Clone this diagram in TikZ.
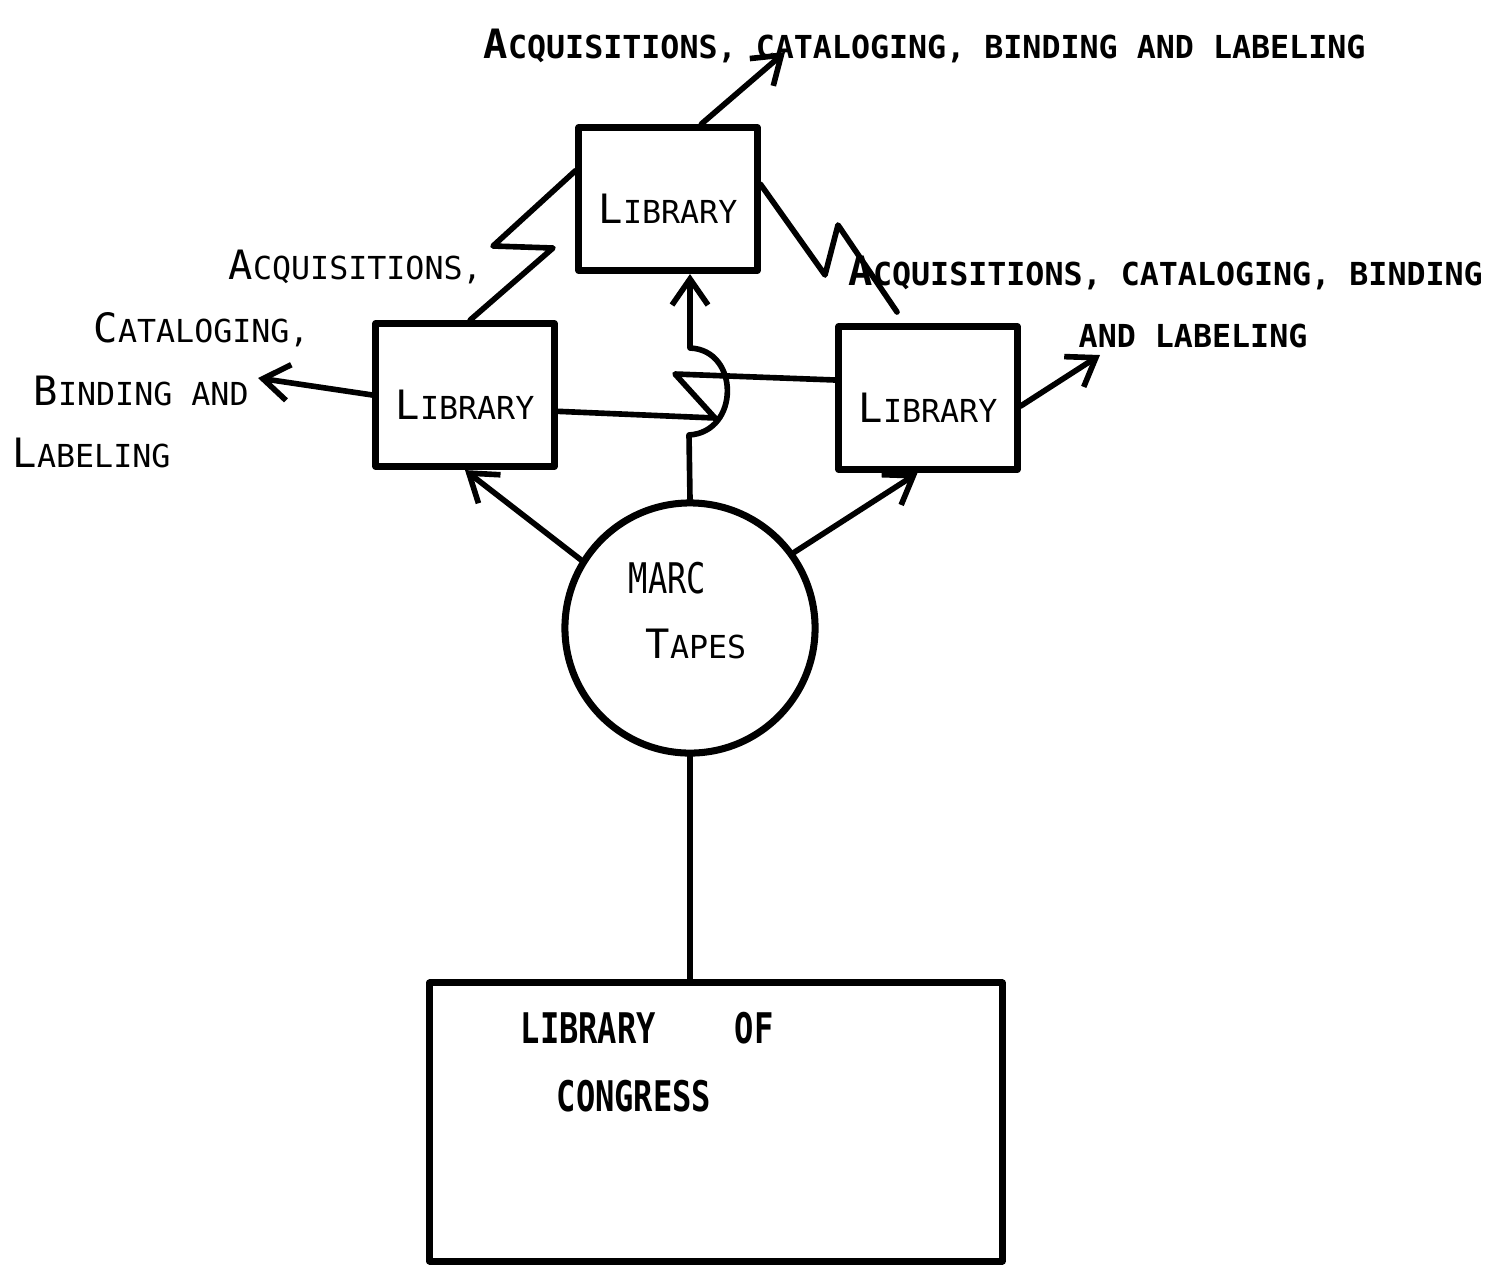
\documentclass[tikz,border=0pt]{standalone}
\usepackage{fontspec}
\setmonofont{DejaVu Sans Mono}
\usetikzlibrary{calc,positioning}
\usetikzlibrary{arrows.meta}
\tikzset{>={Straight Barb[width=3.6mm,length=2.6mm]}}
\newcommand{\capl}[2]{{\fontsize{11.5}{13}\selectfont #1}#2}
\newcommand{\narrow}[1]{\scalebox{0.76}[1]{\fontsize{12}{14}\selectfont #1}}

\begin{document}
\begin{tikzpicture}[x=0.01cm, y=-0.01cm, line cap=round, line join=round]
        \tikzstyle{libbox} = [draw=black, line width=2pt, minimum width=1.78cm, minimum height=1.43cm, inner sep=0pt, text height=14pt, font=\ttfamily\fontsize{9}{11}\selectfont]
        \tikzstyle{lettering} = [inner sep=0pt, anchor=base west, font=\ttfamily\fontsize{9}{11}\selectfont]
        \tikzstyle{boldlettering} = [lettering, font=\ttfamily\bfseries\fontsize{9}{11}\selectfont]
        \tikzstyle{wire} = [line width=1.6pt]
        \useasboundingbox (0,0) rectangle (1497,1266);

        \node[libbox] (toplib) at (668,199) {\capl{L}{IBRARY}};
        \node[libbox] (leftlib) at (465,395) {\capl{L}{IBRARY}};
        \node[libbox] (rightlib) at (928,398) {\capl{L}{IBRARY}};
        \node[draw=black, line width=2pt, circle, minimum size=2.5cm, inner sep=0pt] (marc) at (690,628) {};
        \node[draw=black, line width=2pt, minimum width=5.72cm, minimum height=2.78cm] (loc) at (716,1122) {};

        % texts
        \node[boldlettering] (toptext) at (483,58) {\capl{A}{CQUISITIONS, CATALOGING, BINDING AND LABELING}};
        \node[lettering] (lefta) at (228,279) {\capl{A}{CQUISITIONS,}};
        \node[lettering] (leftb) at (93,342) {\capl{C}{ATALOGING,}};
        \node[lettering] (leftc) at (33,405) {\capl{B}{INDING AND}};
        \node[lettering] (leftd) at (12,467) {\capl{L}{ABELING}};
        \node[boldlettering] (righta) at (848,285) {\capl{A}{CQUISITIONS, CATALOGING, BINDING}};
        \node[boldlettering] (rightb) at (1078,347) {AND LABELING};
        \node[lettering] (marca) at (628,593) {\narrow{MARC}};
        \node[lettering] (marcb) at (645,658) {\capl{T}{APES}};
        \node[boldlettering] (loca) at (520,1043) {\narrow{LIBRARY}\hspace{22.5pt}\narrow{OF}};
        \node[boldlettering] (locb) at (556,1111) {\narrow{CONGRESS}};

        \coordinate (topout) at (785,52);
        \coordinate (leftout) at (258,378);
        \coordinate (rightout) at (1100,355);
        \coordinate (zigend) at (897,312);
        \coordinate (zagA) at (715,418);
        \coordinate (zagB) at (675,374);
        \coordinate (hoplow) at (689,435);
        \coordinate (hophigh) at (690,348);

        \draw[wire,->] (toplib.66) to (topout);
        \draw[wire,->] (leftlib.west) to (leftout);
        \draw[wire,->] (rightlib.-5) to (rightout);
        \draw[wire,->] (marc.148) to (leftlib.south);
        \draw[wire,->] (marc.36) to ([xshift=-3pt]rightlib.south);
        \draw[wire,->] (marc.north) -- (hoplow) .. controls (740,432) and (740,350) .. (hophigh) -- (toplib.south -| hophigh);
        \draw[wire] (leftlib.-10) -- (zagA) -- (zagB) -- (rightlib.169);
        \draw[wire] (leftlib.86) -- (553,248) -- (493,246) -- (toplib.163);
        \draw[wire] (toplib.9) -- (825,275) -- (838,225) -- (zigend);
        \draw[wire] (marc.south) -- (marc.south |- loc.north);
      \end{tikzpicture}
\end{document}
